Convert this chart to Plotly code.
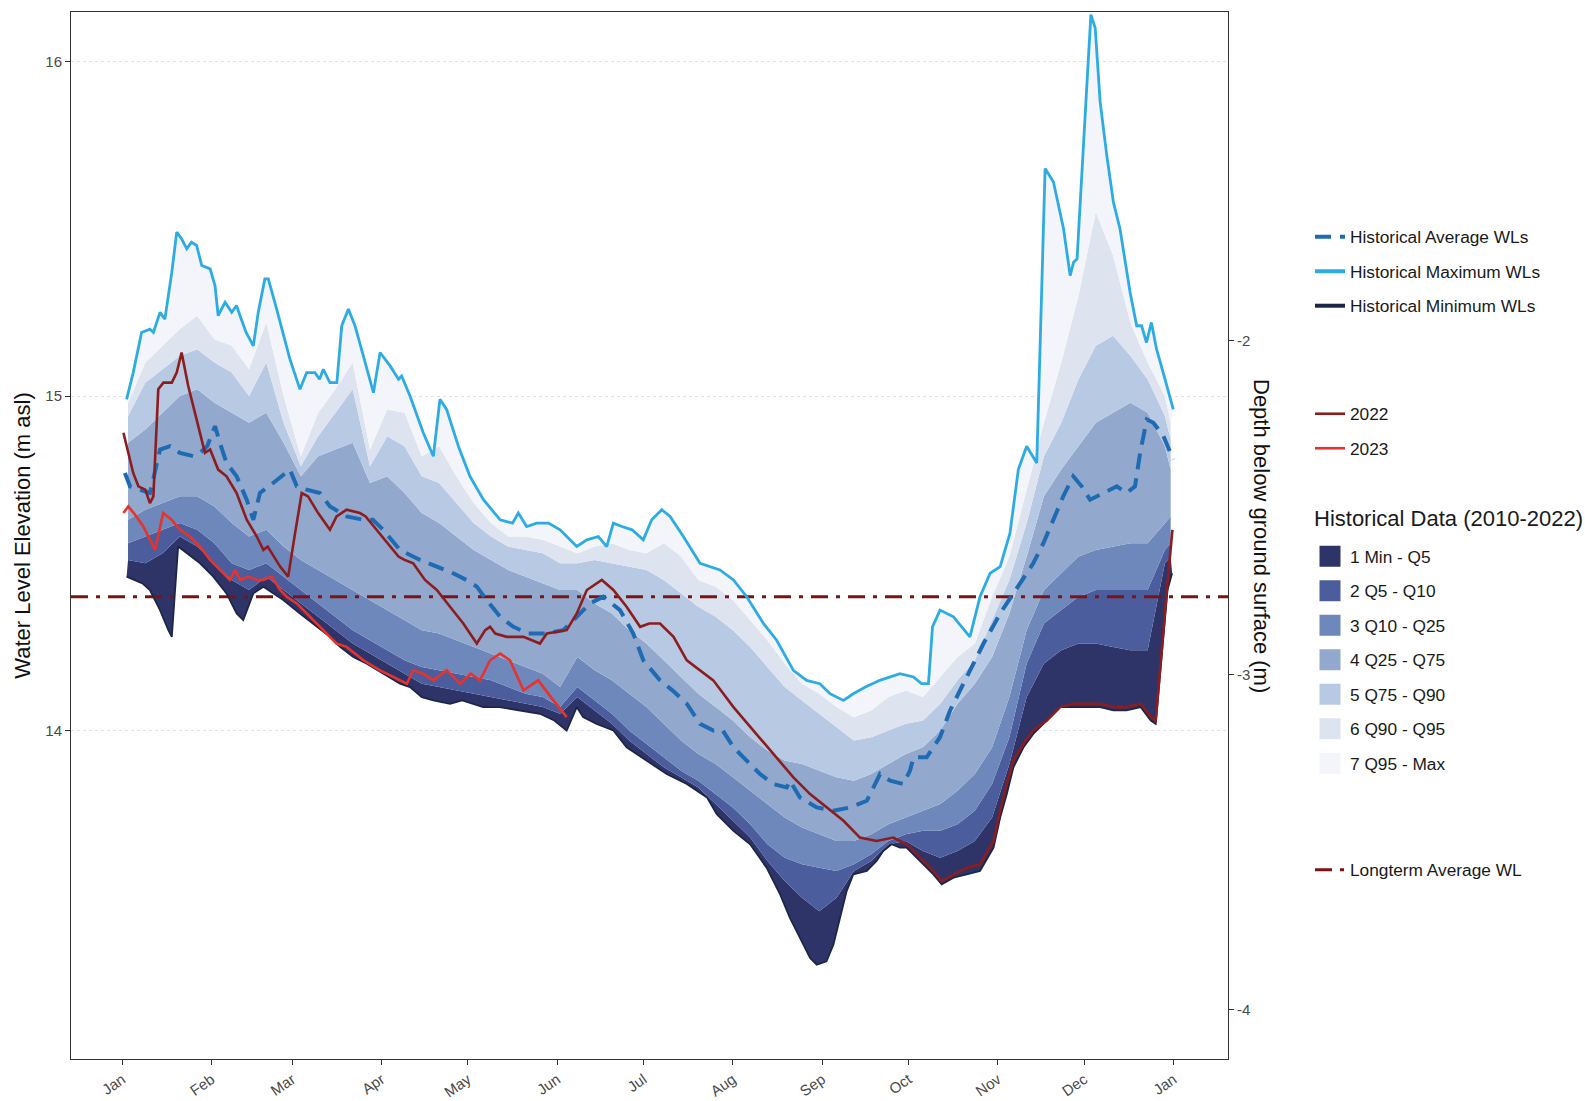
import numpy as np
import pandas as pd
import plotly.graph_objects as go

# ------------------------------------------------------------------
# Groundwater level record (elevation in m asl); x = days after 1 January
# ------------------------------------------------------------------
max_days = [1.5, 3.8, 6.7, 9.6, 10.8, 13.1, 14.8, 17.2, 18.9, 20.6, 22.4, 24.0, 25.8, 27.6, 30.5,
            32.2, 33.3, 35.7, 38.0, 39.7, 40.9, 43.0, 45.5, 47.2, 49.5, 50.7, 53.6, 58.2, 61.7, 64.0,
            66.9, 68.5, 69.8, 72.1, 74.5, 76.2, 78.5, 80.8, 83.7, 87.2, 89.5, 93.0, 95.9, 97.0, 99.9,
            104.5, 108.0, 110.3, 112.6, 116.7, 120.7, 125.4, 131.2, 135.5, 137.5, 140.4, 143.9, 148.0,
            152.0, 157.8, 161.3, 165.3, 168.2, 170.5, 173.5, 177.0, 180.9, 183.8, 187.3, 190.2, 194.8,
            200.6, 207.5, 212.2, 216.8, 222.6, 227.2, 233.0, 237.6, 242.2, 245.7, 250.4, 253.8, 258.0,
            263.0, 270.0, 274.7, 277.5, 279.9, 281.3, 283.9, 288.6, 294.3, 297.8, 301.3, 304.8, 308.2,
            311.1, 314.0, 317.5, 318.7, 320.4, 323.3, 326.8, 329.1, 330.3, 331.5, 333.1, 334.9, 336.3,
            337.8, 339.5, 341.8, 344.1, 346.4, 349.9, 352.2, 353.9, 355.6, 357.3, 359.1, 361.4, 364.9]
max_vals = [14.99, 15.07, 15.19, 15.20, 15.19, 15.25, 15.23, 15.37, 15.49, 15.47, 15.44, 15.46, 15.45, 15.39, 15.38,
            15.33, 15.24, 15.28, 15.25, 15.27, 15.24, 15.19, 15.15, 15.25, 15.35, 15.35, 15.26, 15.11, 15.02, 15.07,
            15.07, 15.05, 15.08, 15.04, 15.04, 15.21, 15.26, 15.21, 15.12, 15.01, 15.13, 15.09, 15.05, 15.06, 15.00,
            14.89, 14.82, 14.99, 14.96, 14.85, 14.76, 14.69, 14.63, 14.62, 14.65, 14.61, 14.62, 14.62,
            14.60, 14.55, 14.57, 14.58, 14.55, 14.62, 14.61, 14.60, 14.57, 14.63, 14.66, 14.64, 14.58,
            14.50, 14.48, 14.45, 14.40, 14.32, 14.27, 14.18, 14.15, 14.14, 14.11, 14.09, 14.11, 14.13,
            14.15, 14.17, 14.16, 14.14, 14.14, 14.31, 14.36, 14.34, 14.28, 14.40, 14.47, 14.49, 14.59,
            14.78, 14.85, 14.80, 15.16, 15.68, 15.64, 15.50, 15.36, 15.40, 15.41, 15.67, 15.93, 16.14,
            16.10, 15.88, 15.72, 15.58, 15.50, 15.31, 15.21, 15.21, 15.16, 15.22, 15.14, 15.07, 14.96]

min_days = [1.5, 4.0, 7.0, 9.6, 13.1, 16.0, 17.2, 19.4, 22.4, 27.0, 31.6, 36.2, 39.7, 42.0, 45.5,
            49.0, 52.4, 55.9, 61.7, 67.5, 72.1, 75.6, 80.2, 84.9, 90.6, 96.4, 99.9, 104.0, 108.0, 113.8,
            118.0, 125.3, 131.0, 138.0, 145.0, 150.0, 154.3, 157.8, 160.0, 164.7, 170.5, 175.1, 182.0,
            189.0, 196.0, 203.0, 206.4, 212.2, 218.0, 223.7, 228.4, 231.8, 235.3, 238.8, 241.1, 244.5,
            246.9, 249.2, 251.5, 253.8, 258.5, 261.9, 264.2, 267.1, 270.0, 272.3, 277.0, 281.6, 284.5,
            288.6, 293.2, 297.8, 302.5, 304.8, 307.1, 309.4, 312.9, 316.3, 321.0, 325.6, 330.2, 334.9,
            339.5, 344.1, 348.7, 353.6, 357.1, 358.8, 360.5, 362.9, 364.5]
min_vals = [14.46, 14.45, 14.44, 14.42, 14.36, 14.30, 14.28, 14.55, 14.53, 14.50, 14.46, 14.41, 14.35, 14.33, 14.41,
            14.43, 14.41, 14.39, 14.35, 14.31, 14.28, 14.25, 14.22, 14.20, 14.17, 14.14, 14.13, 14.10, 14.09, 14.08,
            14.09, 14.07, 14.07, 14.06, 14.05, 14.03, 14.00, 14.07, 14.04, 14.02, 14.00, 13.95, 13.91,
            13.87, 13.84, 13.80, 13.75, 13.70, 13.66, 13.59, 13.51, 13.44, 13.38, 13.32, 13.30, 13.31,
            13.36, 13.44, 13.52, 13.57, 13.58, 13.61, 13.64, 13.66, 13.65, 13.65, 13.61, 13.57, 13.54,
            13.56, 13.57, 13.58, 13.65, 13.74, 13.81, 13.89, 13.95, 13.99, 14.03, 14.07, 14.07, 14.07,
            14.07, 14.06, 14.06, 14.07, 14.03, 14.02, 14.18, 14.42, 14.47]

avg_days = [0.9, 2.7, 6.0, 9.6, 11.0, 13.1, 16.6, 20.0, 24.7, 27.0, 29.5, 32.2, 33.9, 36.2, 39.7,
            43.2, 45.5, 47.8, 52.4, 55.3, 58.2, 60.6, 64.0, 68.6, 72.1, 77.9, 83.7, 87.0, 90.6, 96.4,
            103.4, 109.2, 114.9, 119.5, 123.1, 126.5, 131.2, 135.8, 141.0, 147.0, 153.1, 157.8, 162.4,
            167.0, 172.8, 177.4, 180.9, 186.7, 191.0, 196.0, 200.6, 205.2, 208.5, 212.2, 216.8, 221.4,
            226.0, 230.7, 231.8, 235.3, 241.1, 246.9, 252.7, 258.5, 263.1, 266.6, 271.2, 273.5, 274.7,
            279.3, 283.9, 287.4, 293.2, 299.0, 304.8, 309.4, 312.9, 316.3, 319.8, 323.3, 326.7, 330.2,
            333.1, 336.0, 340.6, 345.3, 348.7, 351.6, 353.4, 355.7, 358.0, 361.5, 364.9]
avg_vals = [14.77, 14.73, 14.72, 14.71, 14.76, 14.84, 14.85, 14.83, 14.82, 14.83, 14.85, 14.91, 14.86, 14.80, 14.76,
            14.69, 14.63, 14.71, 14.74, 14.76, 14.78, 14.73, 14.72, 14.71, 14.67, 14.64, 14.63, 14.63, 14.60, 14.54,
            14.51, 14.49, 14.47, 14.45, 14.43, 14.39, 14.34, 14.31, 14.29, 14.29, 14.30, 14.34, 14.38,
            14.40, 14.36, 14.29, 14.21, 14.15, 14.12, 14.08, 14.02, 14.00, 14.00, 13.95, 13.91, 13.87,
            13.84, 13.83, 13.85, 13.80, 13.77, 13.76, 13.77, 13.79, 13.87, 13.85, 13.84, 13.88, 13.92,
            13.92, 13.98, 14.06, 14.16, 14.26, 14.35, 14.41, 14.46, 14.50, 14.56, 14.63, 14.70, 14.76,
            14.73, 14.69, 14.71, 14.73, 14.71, 14.73, 14.83, 14.93, 14.92, 14.88, 14.81]

y2022_days = [0.4, 3.8, 5.6, 8.0, 9.6, 10.8, 12.5, 14.3, 17.2, 18.9, 20.6, 22.9, 25.8, 28.7, 30.5,
              33.3, 36.2, 39.7, 43.2, 46.7, 49.0, 50.5, 54.8, 57.6, 60.0, 62.3, 64.5, 68.0, 72.1, 74.4,
              77.9, 82.5, 84.5, 88.3, 91.8, 95.9, 98.0, 101.0, 105.1, 109.2, 113.8, 118.4, 123.1, 126.0,
              127.7, 129.5, 133.5, 139.3, 145.0, 147.4, 154.3, 157.8, 161.3, 166.5, 170.5, 175.1, 179.8,
              183.0, 186.7, 191.4, 196.0, 200.6, 205.2, 212.2, 219.1, 226.0, 233.0, 238.8, 244.6, 250.4,
              256.1, 261.9, 267.7, 272.3, 277.0, 281.6, 284.5, 288.6, 293.2, 297.8, 302.5, 304.8, 307.1,
              309.4, 312.9, 316.3, 321.0, 325.6, 330.2, 334.9, 339.5, 344.1, 348.7, 353.6, 357.1, 358.8,
              360.5, 362.9, 364.6]
y2022_vals = [14.89, 14.77, 14.73, 14.72, 14.68, 14.70, 15.02, 15.04, 15.04, 15.07, 15.13, 15.03, 14.93, 14.83, 14.84,
              14.78, 14.76, 14.71, 14.63, 14.58, 14.54, 14.55, 14.49, 14.46, 14.59, 14.71, 14.70, 14.65, 14.60, 14.64,
              14.66, 14.65, 14.64, 14.60, 14.56, 14.52, 14.51, 14.50, 14.45, 14.42, 14.37, 14.32, 14.26, 14.30,
              14.31, 14.29, 14.28, 14.28, 14.26, 14.29, 14.30, 14.35, 14.42, 14.45, 14.42, 14.37, 14.31,
              14.32, 14.32, 14.28, 14.21, 14.18, 14.15, 14.07, 14.00, 13.93, 13.86, 13.81, 13.77, 13.73,
              13.68, 13.67, 13.68, 13.66, 13.62, 13.58, 13.55, 13.57, 13.59, 13.60, 13.67, 13.76, 13.84,
              13.91, 13.96, 14.00, 14.03, 14.07, 14.08, 14.08, 14.08, 14.07, 14.07, 14.08, 14.04, 14.03,
              14.21, 14.44, 14.60]

y2023_days = [0.4, 2.1, 4.0, 7.3, 11.4, 14.2, 17.1, 20.0, 23.5, 27.0, 30.5, 33.9, 37.4, 39.1, 41.0,
              43.8, 46.7, 49.0, 51.9, 54.8, 57.1, 60.6, 64.0, 68.6, 71.0, 74.4, 77.9, 83.7, 89.5, 94.1,
              98.8, 101.0, 104.5, 108.0, 112.6, 117.3, 121.0, 124.2, 127.7, 131.2, 134.6, 139.3, 144.4,
              149.7, 154.3]
y2023_vals = [14.65, 14.67, 14.65, 14.61, 14.54, 14.65, 14.63, 14.60, 14.58, 14.55, 14.51, 14.48, 14.45, 14.48, 14.45,
              14.46, 14.45, 14.45, 14.46, 14.42, 14.40, 14.38, 14.35, 14.31, 14.29, 14.26, 14.25, 14.21, 14.18, 14.16,
              14.14, 14.18, 14.17, 14.15, 14.18, 14.14, 14.17, 14.15, 14.21, 14.23, 14.21, 14.12, 14.15,
              14.09, 14.04]

# Historical quantiles (2010-2022) on a common day grid
band_days = [2, 8, 14, 20, 26, 32, 38, 44, 50, 56, 62, 68, 74, 80, 86, 92, 98, 104, 110, 116,
             122, 128, 134, 140, 146, 152, 158, 164, 170, 176, 182, 188, 194, 200, 206, 212, 218, 224,
             230, 236, 242, 248, 254, 260, 266, 272, 278, 284, 290, 296, 302, 308, 314, 320, 326, 332,
             338, 344, 350, 356, 362, 364]
q05 = [14.51, 14.50, 14.53, 14.58, 14.55, 14.50, 14.45, 14.42, 14.46, 14.42, 14.38, 14.34, 14.30, 14.26, 14.23,
       14.20, 14.17, 14.14, 14.13, 14.12, 14.11, 14.10, 14.09, 14.08, 14.07, 14.05, 14.10, 14.06, 14.02, 13.97,
       13.93, 13.89, 13.86, 13.83, 13.78, 13.73, 13.68, 13.61, 13.55, 13.50, 13.46, 13.50, 13.58, 13.61, 13.66,
       13.67, 13.64, 13.62, 13.64, 13.67, 13.74, 13.90, 14.10, 14.20, 14.24, 14.26, 14.26, 14.25, 14.24, 14.24,
       14.50, 14.52]
q10 = [14.56, 14.58, 14.60, 14.62, 14.60, 14.56, 14.50, 14.48, 14.50, 14.46, 14.42, 14.38, 14.34, 14.30, 14.27,
       14.24, 14.21, 14.19, 14.18, 14.17, 14.16, 14.15, 14.13, 14.11, 14.10, 14.07, 14.13, 14.09, 14.05, 14.00,
       13.96, 13.92, 13.88, 13.85, 13.81, 13.77, 13.72, 13.66, 13.62, 13.60, 13.59, 13.58, 13.60, 13.63, 13.67,
       13.69, 13.70, 13.70, 13.72, 13.76, 13.84, 13.98, 14.20, 14.32, 14.36, 14.40, 14.42, 14.42, 14.42, 14.42,
       14.54, 14.56]
q25 = [14.63, 14.66, 14.68, 14.70, 14.70, 14.67, 14.62, 14.58, 14.60, 14.55, 14.51, 14.48, 14.45, 14.42, 14.39,
       14.36, 14.33, 14.30, 14.29, 14.27, 14.25, 14.23, 14.21, 14.19, 14.17, 14.13, 14.22, 14.18, 14.15, 14.11,
       14.07, 14.02, 13.97, 13.93, 13.90, 13.86, 13.82, 13.78, 13.74, 13.71, 13.69, 13.67, 13.67, 13.69, 13.72,
       13.74, 13.76, 13.78, 13.82, 13.87, 13.95, 14.10, 14.30, 14.42, 14.47, 14.52, 14.54, 14.55, 14.56, 14.56,
       14.62, 14.64]
q75 = [14.86, 14.90, 14.95, 15.00, 15.02, 14.98, 14.95, 14.92, 14.95, 14.86, 14.76, 14.82, 14.84, 14.86, 14.74,
       14.76, 14.71, 14.65, 14.62, 14.58, 14.54, 14.51, 14.48, 14.46, 14.44, 14.42, 14.42, 14.38, 14.35, 14.30,
       14.26, 14.21, 14.16, 14.11, 14.07, 14.03, 13.98, 13.94, 13.91, 13.90, 13.88, 13.86, 13.85, 13.87, 13.90,
       13.93, 13.95, 14.00, 14.08, 14.14, 14.22, 14.35, 14.52, 14.70, 14.78, 14.85, 14.92, 14.95, 14.98, 14.95,
       14.85, 14.78]
q90 = [14.94, 15.04, 15.08, 15.12, 15.14, 15.10, 15.07, 15.00, 15.10, 14.92, 14.79, 14.88, 14.95, 15.02, 14.79,
       14.88, 14.85, 14.76, 14.74, 14.68, 14.62, 14.58, 14.55, 14.54, 14.53, 14.50, 14.50, 14.51, 14.50, 14.49,
       14.48, 14.45, 14.41, 14.37, 14.34, 14.30, 14.25, 14.19, 14.13, 14.09, 14.05, 14.01, 13.97, 13.98, 14.00,
       14.02, 14.03, 14.08, 14.15, 14.21, 14.33, 14.45, 14.62, 14.82, 14.92, 15.05, 15.15, 15.18, 15.12, 15.05,
       14.94, 14.87]
q95 = [14.98, 15.10, 15.15, 15.20, 15.24, 15.17, 15.15, 15.08, 15.22, 15.00, 14.82, 14.95, 15.02, 15.10, 14.84,
       14.96, 14.95, 14.82, 14.85, 14.76, 14.68, 14.62, 14.58, 14.58, 14.57, 14.55, 14.53, 14.55, 14.56, 14.54,
       14.53, 14.56, 14.52, 14.45, 14.43, 14.39, 14.33, 14.27, 14.20, 14.14, 14.11, 14.07, 14.04, 14.06, 14.10,
       14.12, 14.10, 14.16, 14.22, 14.26, 14.40, 14.52, 14.72, 14.92, 15.10, 15.30, 15.55, 15.42, 15.22, 15.10,
       15.00, 14.92]

longterm_average = 14.40          # m asl
ground_elevation = 17.166         # m asl, datum of the depth axis

band_names = ["1 Min - Q5", "2 Q5 - Q10", "3 Q10 - Q25", "4 Q25 - Q75",
              "5 Q75 - Q90", "6 Q90 - Q95", "7 Q95 - Max"]
band_colors = ["#2E3468", "#4B5D9C", "#6E88BB", "#93A8CD", "#B8CAE3", "#DEE3F0", "#F4F5FA"]

month_labels = ["Jan", "Feb", "Mar", "Apr", "May", "Jun", "Jul",
                "Aug", "Sep", "Oct", "Nov", "Dec", "Jan"]
elev_ticks = [14, 15, 16]
depth_ticks = [-4, -3, -2]

# ------------------------------------------------------------------
# Helpers
# ------------------------------------------------------------------
YEAR_START = pd.Timestamp("2023-01-01")


def to_dates(days):
    return YEAR_START + pd.to_timedelta(np.asarray(days, dtype=float), unit="D")


FONT = "Liberation Sans, Arial, Helvetica, sans-serif"
W, H = 1585, 1101
PLOT_L, PLOT_R, PLOT_T, PLOT_B = 71, 1228, 12, 1059


def paper_x(px):
    return (px - PLOT_L) / (PLOT_R - PLOT_L)


def paper_y(py):
    return (PLOT_B - py) / (PLOT_B - PLOT_T)


Y_RANGE = [13.018, 16.148]
x_range = [d.strftime("%Y-%m-%d %H:%M:%S") for d in to_dates([-17.8, 383.9])]
month_starts = pd.date_range(YEAR_START, periods=len(month_labels), freq="MS")

COL_MAX = "#2DACE3"
COL_MIN = "#1C2747"
COL_AVG = "#1F6BB3"
COL_2022 = "#8C1D1F"
COL_2023 = "#E8322C"
COL_LT = "#7A1414"

fig = go.Figure()

# ------------------------------------------------------------------
# Stacked quantile bands (each filled down to the previous boundary)
# ------------------------------------------------------------------
boundaries = [(min_days, min_vals), (band_days, q05), (band_days, q10), (band_days, q25),
              (band_days, q75), (band_days, q90), (band_days, q95), (max_days, max_vals)]
for i, (d, v) in enumerate(boundaries):
    fig.add_trace(go.Scatter(
        x=to_dates(d), y=v, mode="lines",
        line=dict(width=0, color=band_colors[max(i - 1, 0)]),
        fill="none" if i == 0 else "tonexty",
        fillcolor=band_colors[i - 1] if i > 0 else None,
        showlegend=False, hoverinfo="skip",
    ))

# Long-term average level
fig.add_trace(go.Scatter(
    x=x_range, y=[longterm_average, longterm_average], mode="lines",
    line=dict(color=COL_LT, width=3, dash="17px,8px,4px,8px"),
    name="Longterm Average WL", legend="legend4", legendgroup="lt",
))

# Historical envelopes and mean (legend swatches drawn a little heavier)
fig.add_trace(go.Scatter(
    x=to_dates(max_days), y=max_vals, mode="lines",
    line=dict(color=COL_MAX, width=2.8), showlegend=False, legendgroup="max",
))
fig.add_trace(go.Scatter(
    x=to_dates(min_days), y=min_vals, mode="lines",
    line=dict(color=COL_MIN, width=1.8), showlegend=False, legendgroup="min",
))
fig.add_trace(go.Scatter(
    x=to_dates(avg_days), y=avg_vals, mode="lines",
    line=dict(color=COL_AVG, width=4, dash="16px,9px"),
    name="Historical Average WLs", legend="legend", legendgroup="avg", legendrank=1,
))
fig.add_trace(go.Scatter(
    x=[None], y=[None], mode="lines", line=dict(color=COL_MAX, width=4),
    name="Historical Maximum WLs", legend="legend", legendgroup="max", legendrank=2,
))
fig.add_trace(go.Scatter(
    x=[None], y=[None], mode="lines", line=dict(color=COL_MIN, width=4),
    name="Historical Minimum WLs", legend="legend", legendgroup="min", legendrank=3,
))

# Recent years
fig.add_trace(go.Scatter(
    x=to_dates(y2022_days), y=y2022_vals, mode="lines",
    line=dict(color=COL_2022, width=2.6),
    name="2022", legend="legend2", legendgroup="y2022",
))
fig.add_trace(go.Scatter(
    x=to_dates(y2023_days), y=y2023_vals, mode="lines",
    line=dict(color=COL_2023, width=2.6),
    name="2023", legend="legend2", legendgroup="y2023",
))

# Legend swatches for the quantile bands
for i, (name, col) in enumerate(zip(band_names, band_colors)):
    fig.add_trace(go.Scatter(
        x=[None], y=[None], mode="markers",
        marker=dict(symbol="square", size=16, color=col, line=dict(color=col, width=5)),
        name=name, legend="legend3", legendgroup=f"band{i}",
    ))

# Depth axis carrier
fig.add_trace(go.Scatter(x=[None], y=[None], yaxis="y2", showlegend=False, hoverinfo="skip"))

legend_common = dict(
    bgcolor="rgba(0,0,0,0)", borderwidth=0, xanchor="left", yanchor="top",
    traceorder="grouped", tracegroupgap=9, itemwidth=30,
    font=dict(family=FONT, size=17.3, color="#1A1A1A"),
)
LEG_X = paper_x(1310)

tick_font = dict(family=FONT, size=15, color="#4A4A4A")

fig.update_layout(
    template="none",
    width=W, height=H, autosize=False,
    margin=dict(l=PLOT_L, r=W - PLOT_R, t=PLOT_T, b=H - PLOT_B, pad=0),
    paper_bgcolor="white", plot_bgcolor="white",
    font=dict(family=FONT, size=15, color="#222222"),
    hovermode=False,
    xaxis=dict(
        type="date", range=x_range, tickvals=month_starts, ticktext=month_labels,
        tickangle=-35, ticks="outside", ticklen=5, tickwidth=1, tickcolor="#333333",
        showline=True, linecolor="#333333", linewidth=1, mirror=True,
        showgrid=False, zeroline=False, automargin=False, tickfont=tick_font,
    ),
    yaxis=dict(
        range=Y_RANGE, tickvals=elev_ticks, ticks="outside", ticklen=5, tickwidth=1,
        tickcolor="#333333", showline=True, linecolor="#333333", linewidth=1, mirror=True,
        showgrid=True, gridcolor="#E2E2E2", gridwidth=1, griddash="dot", zeroline=False,
        tickfont=tick_font, automargin=False,
        title=dict(text="Water Level Elevation (m asl)", standoff=8,
                   font=dict(family=FONT, size=22, color="#111111")),
    ),
    yaxis2=dict(
        overlaying="y", side="right",
        range=[Y_RANGE[0] - ground_elevation, Y_RANGE[1] - ground_elevation],
        tickvals=depth_ticks, ticktext=[str(t) for t in depth_ticks],
        ticks="outside", ticklen=5, tickwidth=1, tickcolor="#333333",
        showline=False, showgrid=False, zeroline=False, tickfont=tick_font, automargin=False,
    ),
    legend=dict(x=LEG_X, y=paper_y(219), **legend_common),
    legend2=dict(x=LEG_X, y=paper_y(396), **legend_common),
    legend3=dict(x=LEG_X, y=paper_y(538.5), **legend_common),
    legend4=dict(x=LEG_X, y=paper_y(852), **legend_common),
    annotations=[
        dict(text="Depth below ground surface (m)", textangle=90,
             xref="paper", yref="paper", x=paper_x(1262), y=paper_y(536),
             xanchor="center", yanchor="middle", showarrow=False,
             font=dict(family=FONT, size=22, color="#111111")),
        dict(text="Historical Data (2010-2022)",
             xref="paper", yref="paper", x=paper_x(1312), y=paper_y(518.5),
             xanchor="left", yanchor="middle", showarrow=False,
             font=dict(family=FONT, size=22, color="#1A1A1A")),
    ],
)

fig.write_html("out.html")
